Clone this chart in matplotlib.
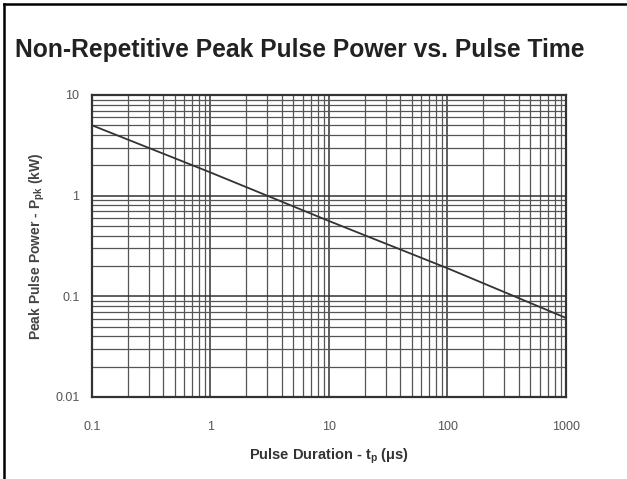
import matplotlib
matplotlib.use("Agg")
import matplotlib.pyplot as plt
from matplotlib.lines import Line2D
from matplotlib.ticker import LogLocator, FixedLocator, NullFormatter
import numpy as np

plt.rcParams['font.family'] = ['Liberation Sans', 'DejaVu Sans']

# curve (pulse time in us, power in kW)
pulse_time = [0.1, 1, 10, 100, 1000]
peak_power = [5.0, 1.7, 0.56, 0.19, 0.061]

x_ticks = [0.1, 1, 10, 100, 1000]
x_labels = ["0.1", "1", "10", "100", "1000"]
y_ticks = [0.01, 0.1, 1, 10]
y_labels = ["0.01", "0.1", "1", "10"]

fig = plt.figure(figsize=(6.27, 4.79), dpi=100)
ax = fig.add_axes([0.1467, 0.1712, 0.756, 0.6305])

ax.set_xscale('log')
ax.set_yscale('log')
ax.set_xlim(0.1, 1000)
ax.set_ylim(0.01, 10)

grid_col = '#555555'
ax.xaxis.set_major_locator(FixedLocator(x_ticks))
ax.yaxis.set_major_locator(FixedLocator(y_ticks))
ax.xaxis.set_minor_locator(LogLocator(base=10, subs=np.arange(2, 10)))
ax.yaxis.set_minor_locator(LogLocator(base=10, subs=np.arange(2, 10)))
ax.xaxis.set_minor_formatter(NullFormatter())
ax.yaxis.set_minor_formatter(NullFormatter())
ax.set_xticklabels(x_labels)
ax.set_yticklabels(y_labels)
ax.grid(True, which='major', color='#333333', lw=1.1)
ax.grid(True, which='minor', color=grid_col, lw=0.9)
ax.tick_params(which='both', length=0, labelsize=9, labelcolor='#555555')
ax.tick_params(axis='x', pad=17)
ax.tick_params(axis='y', pad=9)
for s in ax.spines.values():
    s.set_color('#333333')
    s.set_linewidth(1.6)

ax.plot(pulse_time, peak_power, color='#333333', lw=1.3, zorder=3)

ax.set_xlabel("Pulse Duration - t$_\\mathregular{p}$ (μs)", fontsize=10.5,
              fontweight='bold', color='#333333', labelpad=10)
ax.set_ylabel("Peak Pulse Power - P$_\\mathregular{pk}$ (kW)", fontsize=10,
              fontweight='bold', color='#444444', labelpad=6)

fig.text(0.478, 0.895, "Non-Repetitive Peak Pulse Power vs. Pulse Time",
         ha='center', va='center', fontsize=17.7, fontweight='bold', color='#222222')

# frame on the left and top edges
fig.add_artist(Line2D([4 / 627, 4 / 627], [0, 1 - 4 / 479], color='black', lw=1.8))
fig.add_artist(Line2D([4 / 627, 1], [1 - 4 / 479, 1 - 4 / 479], color='black', lw=1.8))

fig.savefig("out.png", dpi=100)
